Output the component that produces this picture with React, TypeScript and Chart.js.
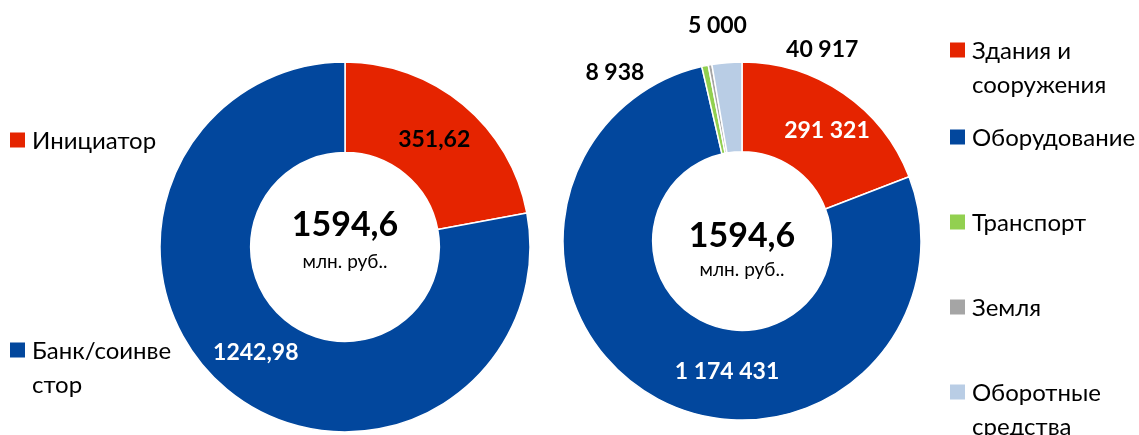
import React, { useEffect, useRef } from 'react';
import { Chart, registerables } from 'chart.js';

Chart.register(...registerables);

const FONT = 'Lato, "Noto Sans", sans-serif';

// ---------- data ----------
const leftCategories: string[][] = [['Инициатор'], ['Банк/соинве', 'стор']];
const leftValues = [351.62, 1242.98];
const leftValueLabels = ['351,62', '1242,98'];
const leftColors = ['#E52400', '#02479D'];

const rightCategories: string[][] = [
  ['Здания и', 'сооружения'],
  ['Оборудование'],
  ['Транспорт'],
  ['Земля'],
  ['Оборотные', 'средства'],
];
const rightValues = [291321, 1174431, 8938, 5000, 40917];
const rightValueLabels = ['291 321', '1 174 431', '8 938', '5 000', '40 917'];
const rightColors = ['#E52400', '#02479D', '#92D050', '#A5A5A5', '#B9CDE5'];

const centerTotal = '1594,6';
const centerUnit = 'млн. руб..';

// ---------- label styling (not data) ----------
const leftLabelColors = ['#000000', '#FFFFFF'];
const leftLabelOutside = [false, false];
const leftLabelShift = [[0, 0], [0, -2]];

const rightLabelColors = ['#FFFFFF', '#FFFFFF', '#000000', '#000000', '#000000'];
const rightLabelOutside = [false, false, true, true, true];
const rightLabelShift = [[9, 0], [48, 12], [-86, 26], [11, -20], [97, 7]];

type Cfg = {
  left: number;
  width: number;
  padding: { left: number; right: number; top: number; bottom: number };
  radius: number;
  cutout: number;
  categories: string[][];
  values: number[];
  colors: string[];
  valueLabels: string[];
  labelColors: string[];
  labelOutside: boolean[];
  labelShift: number[][];
  legendX: number;
  legendY: number[];
  centerDy: [number, number];
};

const valueLabelPlugin = {
  id: 'valueLabels',
  afterDatasetsDraw(chart: any, _args: any, opts: any) {
    const ctx = chart.ctx;
    const meta = chart.getDatasetMeta(0);
    ctx.save();
    ctx.font = `bold 23px ${FONT}`;
    ctx.textAlign = 'center';
    ctx.textBaseline = 'middle';
    meta.data.forEach((arc: any, i: number) => {
      const p = arc.getProps(['x', 'y', 'startAngle', 'endAngle', 'innerRadius', 'outerRadius'], true);
      const mid = (p.startAngle + p.endAngle) / 2;
      const r = opts.outside[i] ? p.outerRadius + 20 : (p.innerRadius + p.outerRadius) / 2;
      const x = p.x + Math.cos(mid) * r + opts.shift[i][0];
      const y = p.y + Math.sin(mid) * r + opts.shift[i][1];
      ctx.fillStyle = opts.colors[i];
      ctx.fillText(opts.labels[i], x, y);
    });
    ctx.restore();
  },
};

const centerTextPlugin = {
  id: 'centerText',
  afterDraw(chart: any, _args: any, opts: any) {
    const ctx = chart.ctx;
    const a = chart.chartArea;
    const cx = (a.left + a.right) / 2;
    const cy = (a.top + a.bottom) / 2;
    ctx.save();
    ctx.fillStyle = '#000';
    ctx.textAlign = 'center';
    ctx.textBaseline = 'middle';
    ctx.font = `bold 34px ${FONT}`;
    ctx.fillText(opts.total, cx, cy + opts.dy[0]);
    ctx.font = `19px ${FONT}`;
    ctx.fillText(opts.unit, cx, cy + opts.dy[1]);
    ctx.restore();
  },
};

const sideLegendPlugin = {
  id: 'sideLegend',
  afterDraw(chart: any, _args: any, opts: any) {
    const ctx = chart.ctx;
    const labels: string[][] = chart.data.labels;
    const colors: string[] = chart.data.datasets[0].backgroundColor;
    ctx.save();
    ctx.font = `24px ${FONT}`;
    ctx.textAlign = 'left';
    ctx.textBaseline = 'middle';
    labels.forEach((lines, i) => {
      const y = opts.ys[i];
      ctx.fillStyle = colors[i];
      ctx.fillRect(opts.x, y - 7.5, 15, 15);
      ctx.fillStyle = '#000';
      lines.forEach((line, j) => {
        ctx.fillText(line, opts.x + 22, y + 1 + j * 34);
      });
    });
    ctx.restore();
  },
};

function Donut({ cfg }: { cfg: Cfg }) {
  const ref = useRef<HTMLCanvasElement | null>(null);
  useEffect(() => {
    if (!ref.current) return;
    const chart = new Chart(ref.current, {
      type: 'doughnut',
      data: {
        labels: cfg.categories as any,
        datasets: [
          {
            data: cfg.values,
            backgroundColor: cfg.colors,
            borderColor: '#FFFFFF',
            borderWidth: 1.5,
            radius: cfg.radius,
            cutout: cfg.cutout,
          } as any,
        ],
      },
      options: {
        animation: false,
        responsive: false,
        maintainAspectRatio: false,
        layout: { padding: cfg.padding },
        plugins: {
          legend: { display: false },
          tooltip: { enabled: false },
          valueLabels: {
            labels: cfg.valueLabels,
            colors: cfg.labelColors,
            outside: cfg.labelOutside,
            shift: cfg.labelShift,
          },
          centerText: { total: centerTotal, unit: centerUnit, dy: cfg.centerDy },
          sideLegend: { x: cfg.legendX, ys: cfg.legendY },
        } as any,
      },
      plugins: [valueLabelPlugin, centerTextPlugin, sideLegendPlugin],
    });
    return () => chart.destroy();
  }, [cfg]);
  return (
    <canvas
      ref={ref}
      width={cfg.width}
      height={435}
      style={{ position: 'absolute', left: cfg.left, top: 0, width: cfg.width, height: 435 }}
    />
  );
}

const leftCfg: Cfg = {
  left: 0,
  width: 560,
  padding: { left: 160, right: 30, top: 62, bottom: 3 },
  radius: 185,
  cutout: 94,
  categories: leftCategories,
  values: leftValues,
  colors: leftColors,
  valueLabels: leftValueLabels,
  labelColors: leftLabelColors,
  labelOutside: leftLabelOutside,
  labelShift: leftLabelShift,
  legendX: 10,
  legendY: [140, 350],
  centerDy: [-22, 15],
};

const rightCfg: Cfg = {
  left: 560,
  width: 579,
  padding: { left: 3, right: 218, top: 62, bottom: 15 },
  radius: 179,
  cutout: 89,
  categories: rightCategories,
  values: rightValues,
  colors: rightColors,
  valueLabels: rightValueLabels,
  labelColors: rightLabelColors,
  labelOutside: rightLabelOutside,
  labelShift: rightLabelShift,
  legendX: 390,
  legendY: [50, 137, 222, 307, 392],
  centerDy: [-5, 29],
};

export default function App() {
  return (
    <div style={{ position: 'fixed', left: 0, top: 0, width: 1139, height: 435, background: '#fff', overflow: 'hidden' }}>
      <Donut cfg={leftCfg} />
      <Donut cfg={rightCfg} />
    </div>
  );
}
